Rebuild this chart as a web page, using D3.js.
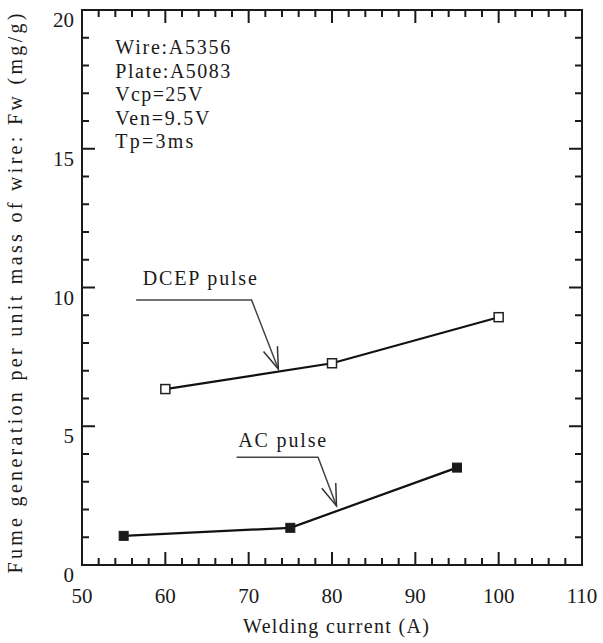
<!DOCTYPE html>
<html>
<head>
<meta charset="utf-8">
<script src="https://cdn.jsdelivr.net/npm/d3@7"></script>
<style>
  body { margin: 0; background: #fff; }
</style>
</head>
<body>
<script>
// data
const currentDCEP = [60, 80, 100];
const fumeDCEP = [6.34, 7.27, 8.93];
const currentAC = [55, 75, 95];
const fumeAC = [1.05, 1.34, 3.51];

const xTicks = [50, 60, 70, 80, 90, 100, 110];
const yTicks = [0, 5, 10, 15, 20];

const conditions = ["Wire:A5356", "Plate:A5083", "Vcp=25V", "Ven=9.5V", "Tp=3ms"];

// label + leader line (data units): text anchor, then line start, bend, arrow tip
const labelDCEP = ["DCEP pulse", [57.3, 10.09], [[56.5, 9.55], [70.35, 9.55], [73.56, 7.06]]];
const labelAC = ["AC pulse", [68.75, 4.26], [[68.55, 3.88], [78.33, 3.88], [80.54, 2.13]]];

const W = 603, H = 643;
const plotLeft = 82, plotRight = 582, plotTop = 10, plotBottom = 565;
const FONT = '"Liberation Serif", "Times New Roman", Times, serif';

const svg = d3.select('body').append('svg')
  .attr('width', W)
  .attr('height', H);

const x = d3.scaleLinear().domain([50, 110]).range([plotLeft, plotRight]);
const y = d3.scaleLinear().domain([0, 20]).range([plotBottom, plotTop]);

// frame and inward ticks drawn as one path
const xMinor = d3.range(50, 110.1, 2);
const yMinor = d3.range(0, 20.1, 1);

const fp = d3.path();
fp.rect(plotLeft, plotTop, plotRight - plotLeft, plotBottom - plotTop);
[[xMinor, 7], [xTicks, 13]].forEach(([vals, len]) => {
  vals.forEach((v) => {
    fp.moveTo(x(v), plotBottom); fp.lineTo(x(v), plotBottom - len);
    fp.moveTo(x(v), plotTop); fp.lineTo(x(v), plotTop + len);
  });
});
[[yMinor, 7], [yTicks, 13]].forEach(([vals, len]) => {
  vals.forEach((v) => {
    fp.moveTo(plotLeft, y(v)); fp.lineTo(plotLeft + len, y(v));
    fp.moveTo(plotRight, y(v)); fp.lineTo(plotRight - len, y(v));
  });
});
svg.append('path')
  .attr('d', fp.toString())
  .attr('fill', 'none')
  .attr('stroke', '#1a1a1a')
  .attr('stroke-width', 2);

function addText() {
  return svg.append('text')
    .attr('font-family', FONT)
    .style('font-family', FONT)
    .attr('fill', '#1a1a1a');
}

// tick labels
xTicks.forEach((d) => {
  addText()
    .attr('x', x(d))
    .attr('y', 603)
    .attr('text-anchor', 'middle')
    .attr('font-size', 21)
    .text(d);
});

yTicks.forEach((d) => {
  addText()
    .attr('x', plotLeft - 8)
    .attr('y', y(d) + 17)
    .attr('text-anchor', 'end')
    .attr('font-size', 21)
    .text(d);
});

// axis titles
addText()
  .attr('x', 243)
  .attr('y', 633)
  .attr('font-size', 20)
  .attr('textLength', 186)
  .attr('lengthAdjust', 'spacing')
  .text('Welding current (A)');

addText()
  .attr('transform', `translate(22,${(plotTop + plotBottom) / 2 + 6}) rotate(-90)`)
  .attr('text-anchor', 'middle')
  .attr('font-size', 20)
  .attr('textLength', 560)
  .attr('lengthAdjust', 'spacing')
  .text('Fume generation per unit mass of wire: Fw (mg/g)');

// welding conditions
const condWidths = [115, 115, 87, 94, 78];
conditions.forEach((d, i) => {
  addText()
    .attr('x', x(54))
    .attr('y', y(18.4) + i * 23.5)
    .attr('font-size', 20)
    .attr('textLength', condWidths[i])
    .attr('lengthAdjust', 'spacing')
    .text(d);
});

// series
const line = d3.line()
  .x((d) => x(d[0]))
  .y((d) => y(d[1]));

const dcep = d3.zip(currentDCEP, fumeDCEP);
const ac = d3.zip(currentAC, fumeAC);

[dcep, ac].forEach((pts) => {
  svg.append('path')
    .datum(pts)
    .attr('d', line)
    .attr('fill', 'none')
    .attr('stroke', '#111')
    .attr('stroke-width', 2.2);
});

const box = 9;
svg.selectAll('.mDCEP')
  .data(dcep)
  .enter()
  .append('rect')
  .attr('x', (d) => x(d[0]) - box / 2)
  .attr('y', (d) => y(d[1]) - box / 2)
  .attr('width', box)
  .attr('height', box)
  .attr('fill', '#fff')
  .attr('stroke', '#222')
  .attr('stroke-width', 1.5);

svg.selectAll('.mAC')
  .data(ac)
  .enter()
  .append('rect')
  .attr('x', (d) => x(d[0]) - box / 2)
  .attr('y', (d) => y(d[1]) - box / 2)
  .attr('width', box)
  .attr('height', box)
  .attr('fill', '#1a1a1a')
  .attr('stroke', '#1a1a1a')
  .attr('stroke-width', 1);

// labels with leader lines and open arrow heads
const labelWidths = [114, 88];
[labelDCEP, labelAC].forEach(([label, pos, path], i) => {
  addText()
    .attr('x', x(pos[0]))
    .attr('y', y(pos[1]))
    .attr('font-size', 20)
    .attr('textLength', labelWidths[i])
    .attr('lengthAdjust', 'spacing')
    .text(label);

  const px = path.map((p) => [x(p[0]), y(p[1])]);
  svg.append('path')
    .attr('d', d3.line()(px))
    .attr('fill', 'none')
    .attr('stroke', '#444')
    .attr('stroke-width', 1.5);

  const tip = px[px.length - 1];
  const prev = px[px.length - 2];
  const ang = Math.atan2(prev[1] - tip[1], prev[0] - tip[0]);
  const len = 23, spread = 0.33;
  const barbs = [ang - spread, ang + spread].map((a) => [tip[0] + len * Math.cos(a), tip[1] + len * Math.sin(a)]);
  svg.append('path')
    .attr('d', d3.line()([barbs[0], tip, barbs[1]]))
    .attr('fill', 'none')
    .attr('stroke', '#333')
    .attr('stroke-width', 1.5);
});
</script>
</body>
</html>
